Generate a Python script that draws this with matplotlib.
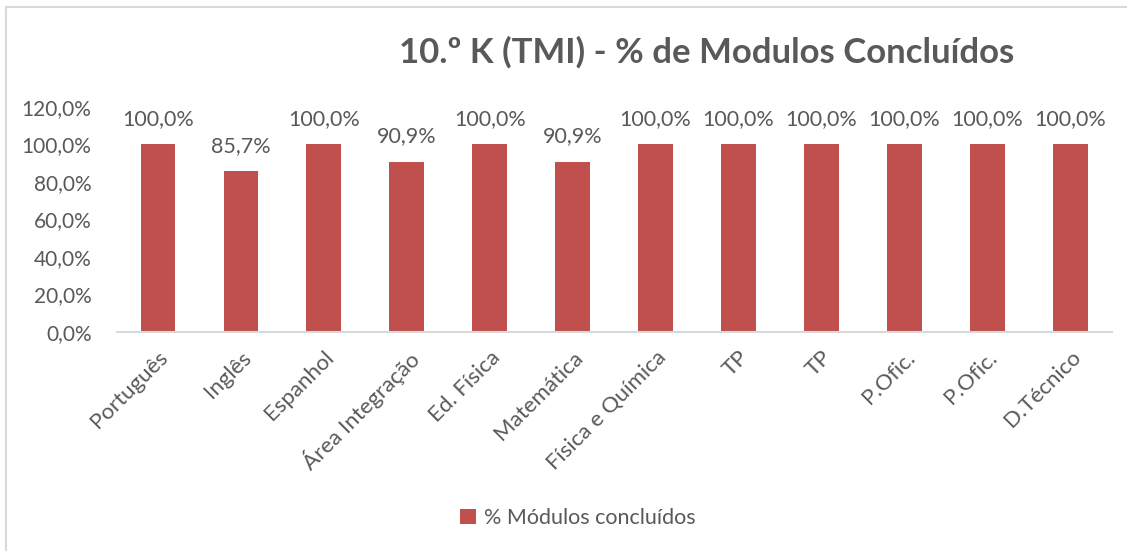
import numpy as np
import matplotlib.pyplot as plt
from matplotlib.patches import Rectangle

# Data
disciplinas = ["Português", "Inglês", "Espanhol", "Área Integração", "Ed. Física",
               "Matemática", "Física e Química", "TP", "TP", "P.Ofic.", "P.Ofic.", "D.Técnico"]
pct_concluidos = [100.0, 85.7, 100.0, 90.9, 100.0, 90.9, 100.0, 100.0, 100.0, 100.0, 100.0, 100.0]
y_ticks = [0, 20, 40, 60, 80, 100, 120]

bar_color = "#C0504D"
txt_color = "#595959"
line_color = "#D9D9D9"

plt.rcParams['font.family'] = ['Lato', 'DejaVu Sans']

fig = plt.figure(figsize=(11.27, 5.51), dpi=100)
ax = fig.add_axes([0.1034, 0.3975, 0.883, 0.4083])

x = np.arange(len(disciplinas))
bars = ax.bar(x, pct_concluidos, width=0.42, color=bar_color, label="% Módulos concluídos")

for xi, v in zip(x, pct_concluidos):
    ax.annotate(f"{v:.1f}%".replace(".", ","), (xi, v), xytext=(0, 11),
                textcoords="offset points", ha="center", va="bottom",
                fontsize=15.5, color=txt_color)

ax.set_ylim(0, 120)
ax.set_xlim(-0.5, len(disciplinas) - 0.5)
ax.set_yticks(y_ticks)
ax.set_yticklabels([f"{t:.1f}%".replace(".", ",") for t in y_ticks], fontsize=15, color=txt_color)
ax.set_xticks(x)
ax.set_xticklabels(disciplinas, rotation=45, ha="right", rotation_mode="anchor",
                   fontsize=16, color=txt_color)
ax.tick_params(axis="both", length=0)
ax.tick_params(axis="x", pad=11)
ax.tick_params(axis="y", pad=18)

for s in ["top", "right", "left"]:
    ax.spines[s].set_visible(False)
ax.spines["bottom"].set_color(line_color)
ax.spines["bottom"].set_linewidth(1.5)

fig.text(0.627, 0.905, "10.º K (TMI) - % de Modulos Concluídos", ha="center", va="center",
         fontsize=25, fontweight="bold", color=txt_color)

leg = fig.legend(handles=[bars], loc="center", bbox_to_anchor=(0.513, 0.06), frameon=False,
                 fontsize=15.5, handlelength=0.7, handleheight=0.7, handletextpad=0.4)
for t in leg.get_texts():
    t.set_color(txt_color)

# chart border
fig.patches.append(Rectangle((6 / 1127, -0.05), 1.2, 1 - 7 / 551 + 0.05, transform=fig.transFigure,
                             fill=False, edgecolor=line_color, linewidth=1.5))

fig.savefig("out.png", dpi=100, facecolor="white")
